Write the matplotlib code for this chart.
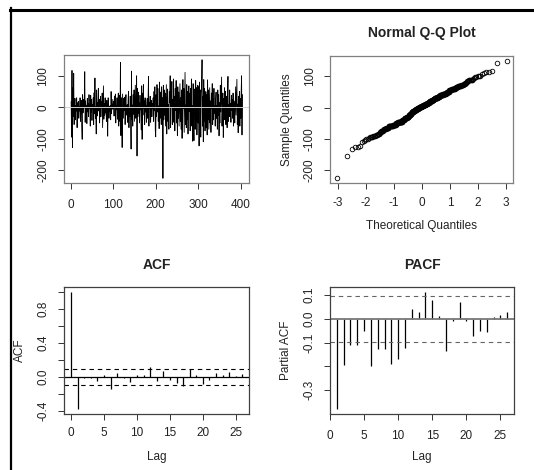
import numpy as np
import matplotlib.pyplot as plt
from matplotlib.lines import Line2D
from statistics import NormalDist

plt.rcParams['font.family'] = ['Liberation Sans', 'DejaVu Sans']
plt.rcParams['axes.unicode_minus'] = False

# residual series (404 points)
series = [
    18, -95, 117, -128, 62, -30, 108, -55, 3, 28, -40, 5, -12, 30, -65, 14, -8, 19, -35, 2,
    -12, 30, -45, 7, 22, -58, -102, 40, -18, 25, -3, 15, 113, -48, 20, -10, 6, -52, 28, -15,
    12, -30, 40, -4, 5, -60, 38, -15, 25, -42, 8, -5, 30, -55, 46, -20, 93, -35, 1, -85,
    55, -28, 15, -7, 60, -12, 25, -50, 8, 35, -30, 18, -2, 45, -65, 9, 68, -38, 12, -25,
    30, -18, 4, -45, 22, -8, -92, 30, 15, -35, 3, -12, 5, -40, 50, -20, 10, -6, 25, -5,
    18, -28, 35, -1, 42, -50, 6, -8, 30, -38, 12, 45, -60, 2, 38, -45, 143, -90, 30, -9,
    -128, 42, 4, -35, 28, -10, 32, -55, 18, 40, -25, -5, 8, -48, 22, 50, -65, 0, -30, 35,
    -15, -133, 115, -40, 7, -60, 40, -22, 55, -45, 10, 70, -35, -3, 100, -155, 60, -30, 48, -20,
    15, -50, 38, -8, 2, -72, 68, -102, 45, -25, 72, -4, 20, -55, 30, -15, 6, -48, 10, 28,
    -35, 20, 98, -60, 15, -2, 35, -48, 8, 22, -30, 12, -5, 30, -45, 50, -11, 65, -75, -94,
    40, -30, 72, -15, 60, -45, 4, -68, 80, -35, 48, 10, -55, 65, -7, 30, -226, 70, -40, 55,
    -25, 45, -60, 3, 72, -85, 20, 58, -45, 9, -70, 50, 15, 100, -65, 40, -1, 82, -55, 25,
    -48, 90, -6, 35, -75, 60, -10, 85, -50, 11, -90, 65, -35, 48, -60, 2, 75, -45, 30, -70,
    55, -99, 40, 88, -4, 60, -80, 25, 111, -55, 7, -65, 72, -40, 50, -85, 20, 68, -13, 45,
    -75, 60, -25, 90, -60, 5, -108, 75, -40, -106, 58, 30, -70, 85, -45, 62, -88, 40, 70, -50,
    65, -123, 80, -3, 55, -95, 42, 72, 151, -60, 35, -110, 88, -45, 60, -75, 9, 50, -65, 40,
    -88, 87, -40, 55, -70, 1, 62, -50, 20, -80, 45, -5, 75, -55, 28, -40, 60, -20, 4, -60,
    25, 48, -35, 6, -70, 55, -25, 40, -91, 14, -50, 70, -15, 35, 96, -60, 3, 45, -96, 28,
    -40, 62, -2, 50, -55, 18, 35, -65, 40, 98, -45, 8, -30, 55, -20, 12, -48, 38, -10, 25,
    -35, 45, -60, 20, 3, -50, 15, 65, -25, 40, 89, -55, 10, -81, 35, -7, 50, -60, 28, -35,
    45, 100, -88, 40,
]

acf_lags = list(range(0, 27))
acf_vals = [1.0, -0.378, -0.015, -0.01, -0.04, 0.027, -0.136, 0.05, -0.015, -0.058,
            0.027, 0.03, 0.122, -0.04, 0.07, -0.035, -0.066, -0.10, 0.094, 0.03,
            -0.08, -0.035, 0.047, 0.028, 0.058, 0.01, 0.04]

pacf_lags = list(range(1, 27))
pacf_vals = [-0.380, -0.192, -0.111, -0.110, -0.049, -0.199, -0.128, -0.125, -0.189, -0.167,
             -0.123, 0.043, 0.028, 0.113, 0.081, 0.011, -0.134, -0.007, 0.070, -0.007,
             -0.070, -0.052, -0.057, 0.008, 0.015, 0.028]

n = len(series)
clim = 1.96 / np.sqrt(n)
txt = '#222222'


def r_lim(lo, hi):
    d = (hi - lo) * 0.04
    return lo - d, hi + d


def style(ax, frame, xpad=6.5, ypad=6.5):
    for s in ax.spines.values():
        s.set_color(frame)
        s.set_linewidth(0.9)
    ax.tick_params(length=4.2, width=0.7, color='#333333', labelsize=8.5, labelcolor=txt)
    ax.tick_params(axis='x', pad=xpad)
    ax.tick_params(axis='y', pad=ypad, labelrotation=90)
    plt.setp(ax.get_yticklabels(), va='center')


fig = plt.figure(figsize=(5.34, 4.70), dpi=100)

# time series
ax1 = fig.add_axes((0.1204, 0.6106, 0.3464, 0.2723))
t = np.arange(1, n + 1)
ax1.plot(t, series, color='black', lw=0.6)
ax1.axhline(0, color='#d0d0d0', lw=0.7)
ax1.set_xlim(*r_lim(1, n))
ax1.set_ylim(*r_lim(min(series), max(series)))
ax1.set_xticks([0, 100, 200, 300, 400])
ax1.set_yticks([-200, -100, 0, 100])
style(ax1, '#808080', xpad=7)

# normal QQ plot
ax2 = fig.add_axes((0.6189, 0.6117, 0.3427, 0.2694))
srt = np.sort(series)
nd = NormalDist()
theo = [nd.inv_cdf((i - 0.5) / n) for i in range(1, n + 1)]
ax2.plot(theo, srt, 'o', mfc='none', mec='black', ms=3.3, mew=0.6)
ax2.set_xlim(*r_lim(theo[0], theo[-1]))
ax2.set_ylim(*r_lim(srt[0], srt[-1]))
ax2.set_xticks([-3, -2, -1, 0, 1, 2, 3])
ax2.set_yticks([-200, -100, 0, 100])
style(ax2, '#808080', xpad=6)
ax2.set_title('Normal Q-Q Plot', fontsize=10, fontweight='bold', color=txt, pad=13.5)
ax2.set_xlabel('Theoretical Quantiles', fontsize=8.5, color=txt, labelpad=8)
ax2.set_ylabel('Sample Quantiles', fontsize=8.5, color=txt, labelpad=8)

# ACF
ax3 = fig.add_axes((0.1204, 0.1191, 0.3464, 0.2696))
ax3.vlines(acf_lags, 0, acf_vals, color='black', lw=0.9)
ax3.axhline(0, color='black', lw=0.9)
for c in (clim, -clim):
    ax3.axhline(c, color='black', lw=0.8, ls=(0, (4, 3.5)))
ax3.set_xlim(-1.04, 27.04)
ax3.set_ylim(*r_lim(min(min(acf_vals), -clim), max(max(acf_vals), clim)))
ax3.set_xticks([0, 5, 10, 15, 20, 25])
yt = [-0.4, -0.2, 0.0, 0.2, 0.4, 0.6, 0.8, 1.0]
ax3.set_yticks(yt)
ax3.set_yticklabels(['-0.4', '', '0.0', '', '0.4', '', '0.8', ''])
style(ax3, '#404040', xpad=5)
ax3.set_title('ACF', fontsize=10, fontweight='bold', color=txt, pad=13.5)
ax3.set_xlabel('Lag', fontsize=8.5, color=txt, labelpad=9)
ax3.set_ylabel('ACF', fontsize=8.5, color=txt, labelpad=8)

# PACF
ax4 = fig.add_axes((0.618, 0.1191, 0.3446, 0.2696))
ax4.vlines(pacf_lags, 0, pacf_vals, color='black', lw=0.9)
ax4.axhline(0, color='#777777', lw=1.3)
for c in (clim, -clim):
    ax4.axhline(c, color='#666666', lw=0.8, ls=(0, (4, 3.5)))
ax4.set_xlim(0, 27)
ax4.set_ylim(*r_lim(min(min(pacf_vals), -clim), max(max(pacf_vals), clim)))
ax4.set_xticks([0, 5, 10, 15, 20, 25])
ax4.set_yticks([-0.3, -0.2, -0.1, 0.0, 0.1])
ax4.set_yticklabels(['-0.3', '', '-0.1', '0.0', '0.1'])
style(ax4, '#404040', xpad=7)
ax4.set_title('PACF', fontsize=10, fontweight='bold', color=txt, pad=13.5)
ax4.set_xlabel('Lag', fontsize=8.5, color=txt, labelpad=7)
ax4.set_ylabel('Partial ACF', fontsize=8.5, color=txt, labelpad=8)

# frame lines of the screenshot (top and left)
fig.add_artist(Line2D([10 / 534, 1], [1 - 9.8 / 470] * 2, color='black', lw=2.2))
fig.add_artist(Line2D([11 / 534] * 2, [0, 1 - 8.3 / 470], color='black', lw=1.6))

fig.savefig('out.png', dpi=100)
